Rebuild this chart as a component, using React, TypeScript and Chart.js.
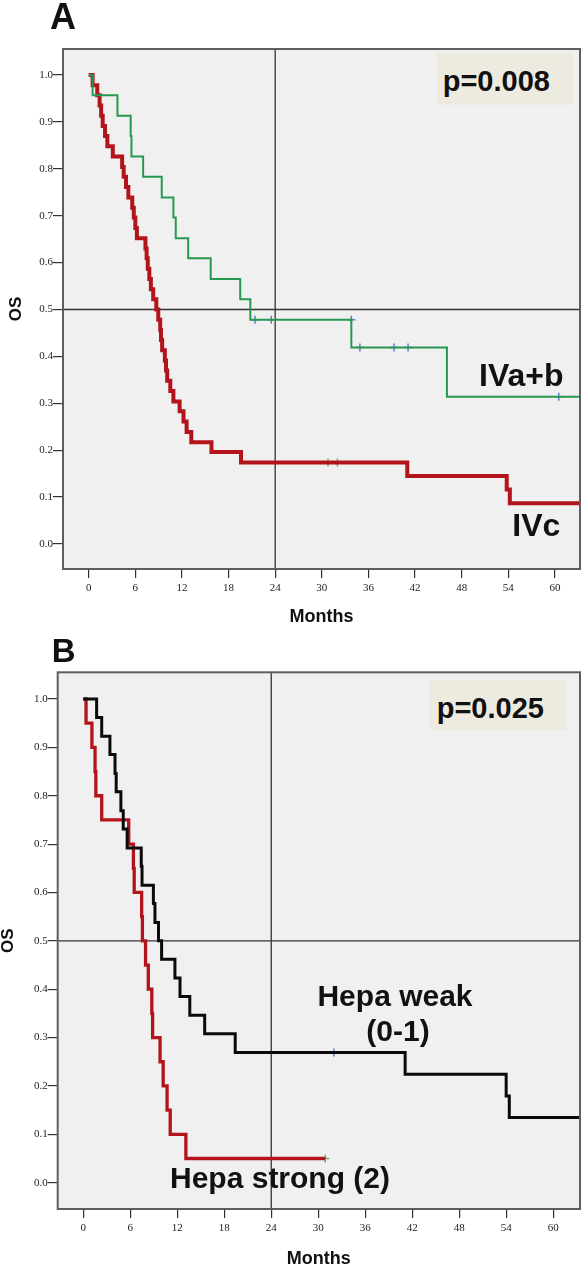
import React, { useEffect, useRef } from 'react';
import { Chart, registerables } from 'chart.js';

Chart.register(...registerables);

// ---------- shared axis data ----------
const monthTicks = [0, 6, 12, 18, 24, 30, 36, 42, 48, 54, 60];
const survTicks = [0.0, 0.1, 0.2, 0.3, 0.4, 0.5, 0.6, 0.7, 0.8, 0.9, 1.0];
const refMonth = 24;
const refSurv = 0.5;

// ---------- Panel A : IVa+b (green) vs IVc (red) ----------
const aGreenTimes = [0, 0.5, 3.7, 5.4, 5.5, 7.0, 9.4, 10.9, 11.2, 12.8, 15.7, 19.5, 20.8, 33.8, 46.1, 63.3];
const aGreenSurv = [1.0, 0.957, 0.913, 0.87, 0.826, 0.783, 0.739, 0.696, 0.652, 0.609, 0.565, 0.522, 0.478, 0.419, 0.314, 0.314];
const aGreenCensor = [21.4, 23.5, 33.8, 34.9, 39.3, 41.1, 60.5];

const aRedTimes = [0, 0.5, 1.1, 1.4, 1.6, 1.8, 2.1, 2.4, 3.1, 4.3, 4.5, 4.8, 5.1, 5.6, 5.8, 6.0, 6.2, 7.3, 7.45, 7.6, 7.8, 8.0, 8.3, 8.7, 8.95, 9.2, 9.3, 9.45, 9.8, 9.95, 10.1, 10.5, 10.9, 11.7, 12.2, 12.6, 13.2, 15.8, 19.6, 41.0, 53.8, 54.2, 63.3];
const aRedSurv = [1.0, 0.978, 0.957, 0.935, 0.913, 0.891, 0.87, 0.848, 0.826, 0.804, 0.783, 0.761, 0.739, 0.717, 0.696, 0.674, 0.652, 0.63, 0.609, 0.587, 0.565, 0.543, 0.522, 0.5, 0.478, 0.457, 0.435, 0.413, 0.391, 0.37, 0.348, 0.326, 0.304, 0.283, 0.261, 0.239, 0.217, 0.196, 0.174, 0.145, 0.116, 0.087, 0.087];
const aRedCensor = [30.8, 32.0];

// ---------- Panel B : Hepa weak (black) vs Hepa strong (red) ----------
const bBlackTimes = [0, 1.7, 2.35, 3.4, 4.05, 4.2, 4.8, 5.1, 5.6, 7.4, 7.5, 8.95, 9.15, 9.6, 10.0, 11.7, 12.35, 13.6, 15.5, 19.4, 41.1, 54.0, 54.4, 63.4];
const bBlackSurv = [1.0, 0.962, 0.923, 0.885, 0.846, 0.808, 0.769, 0.731, 0.692, 0.654, 0.615, 0.577, 0.538, 0.5, 0.462, 0.423, 0.385, 0.346, 0.308, 0.269, 0.224, 0.179, 0.135, 0.135];
const bBlackCensor = [32.0];

const bRedTimes = [0, 0.35, 1.1, 1.5, 1.6, 2.35, 5.8, 6.4, 6.5, 7.45, 7.55, 7.95, 8.3, 8.75, 8.85, 9.8, 10.2, 10.7, 11.1, 13.1, 30.9];
const bRedSurv = [1.0, 0.95, 0.9, 0.85, 0.8, 0.75, 0.7, 0.65, 0.6, 0.55, 0.5, 0.45, 0.4, 0.35, 0.3, 0.25, 0.2, 0.15, 0.1, 0.05, 0.05];
const bRedCensor = [30.9];

// ---------- helpers ----------
const toPoints = (times: number[], surv: number[]) => times.map((t, i) => ({ x: t, y: surv[i] }));
const survBefore = (times: number[], surv: number[], t: number) => {
  let v = surv[0];
  for (let i = 0; i < times.length; i++) if (times[i] < t) v = surv[i];
  return v;
};
const censorPoints = (times: number[], surv: number[], cens: number[]) =>
  cens.map((c) => ({ x: c, y: survBefore(times, surv, c) }));

const curve = (times: number[], surv: number[], color: string, width: number) => ({
  data: toPoints(times, surv),
  borderColor: color,
  backgroundColor: color,
  borderWidth: width,
  stepped: 'before' as const,
  pointRadius: 0,
  pointHoverRadius: 0,
  tension: 0,
  fill: false,
  clip: 0,
});

const marks = (times: number[], surv: number[], cens: number[], color: string) => ({
  data: censorPoints(times, surv, cens),
  showLine: false,
  borderColor: color,
  backgroundColor: color,
  pointStyle: 'cross' as const,
  pointRadius: 4,
  pointHoverRadius: 4,
  pointBorderColor: color,
  pointBorderWidth: 1.5,
  clip: 0,
});

const framePlugin = {
  id: 'kmFrame',
  beforeDraw(chart: any) {
    const { ctx, chartArea: a } = chart;
    ctx.save();
    ctx.fillStyle = '#f0f0f0';
    ctx.fillRect(a.left, a.top, a.right - a.left, a.bottom - a.top);
    ctx.restore();
  },
  beforeDatasetsDraw(chart: any) {
    const { ctx, chartArea: a, scales } = chart;
    const x = scales.x.getPixelForValue(refMonth);
    const y = scales.y.getPixelForValue(refSurv);
    ctx.save();
    ctx.strokeStyle = '#333333';
    ctx.lineWidth = 1.3;
    ctx.beginPath();
    ctx.moveTo(x, a.top);
    ctx.lineTo(x, a.bottom);
    ctx.moveTo(a.left, y);
    ctx.lineTo(a.right, y);
    ctx.stroke();
    ctx.restore();
  },
  afterDatasetsDraw(chart: any) {
    const { ctx, chartArea: a } = chart;
    ctx.save();
    ctx.strokeStyle = '#5e5e5e';
    ctx.lineWidth = 2;
    ctx.strokeRect(a.left, a.top, a.right - a.left, a.bottom - a.top);
    ctx.restore();
  },
};

type PanelProps = {
  top: number;
  height: number;
  padTop: number;
  yWidth: number;
  xHeight: number;
  xMin: number;
  xMax: number;
  yMin: number;
  yMax: number;
  yTitlePad: number;
  xTitlePad: number;
  datasets: any[];
};

function KMPanel(p: PanelProps) {
  const ref = useRef<HTMLCanvasElement | null>(null);
  useEffect(() => {
    if (!ref.current) return;
    const tickFont = { family: '"Liberation Serif", "DejaVu Serif", serif', size: 11 };
    const titleFont = { family: '"Liberation Sans", Arial, sans-serif', size: 17, weight: 'bold' as const, lineHeight: 1 };
    const chart = new Chart(ref.current, {
      type: 'line',
      data: { datasets: p.datasets },
      plugins: [framePlugin],
      options: {
        responsive: false,
        animation: false,
        events: [],
        layout: { padding: { top: p.padTop, right: 6, left: 0, bottom: 0 } },
        plugins: { legend: { display: false }, tooltip: { enabled: false } },
        scales: {
          x: {
            type: 'linear',
            min: p.xMin,
            max: p.xMax,
            afterBuildTicks: (s: any) => {
              s.ticks = monthTicks.map((v) => ({ value: v }));
            },
            afterFit: (s: any) => {
              s.height = p.xHeight;
              s.paddingLeft = 0;
              s.paddingRight = 0;
            },
            grid: { drawOnChartArea: false, drawTicks: true, tickLength: 9, color: '#333', lineWidth: 1.2 },
            border: { display: false },
            ticks: { autoSkip: false, maxRotation: 0, padding: 4, font: tickFont, color: '#222', callback: (v: any) => String(v) },
            title: { display: true, text: 'Months', color: '#111', font: { ...titleFont, size: 18 }, padding: { top: 0, bottom: p.xTitlePad } },
          },
          y: {
            type: 'linear',
            min: p.yMin,
            max: p.yMax,
            afterBuildTicks: (s: any) => {
              s.ticks = survTicks.map((v) => ({ value: v }));
            },
            afterFit: (s: any) => {
              s.width = p.yWidth;
              s.paddingTop = 0;
              s.paddingBottom = 0;
            },
            grid: { drawOnChartArea: false, drawTicks: true, tickLength: 10, color: '#333', lineWidth: 1.2 },
            border: { display: false },
            ticks: { autoSkip: false, padding: 0, font: tickFont, color: '#222', callback: (v: any) => Number(v).toFixed(1) },
            title: { display: true, text: 'OS', color: '#111', font: titleFont, padding: { top: p.yTitlePad, bottom: 0 } },
          },
        },
      } as any,
    });
    return () => chart.destroy();
  }, []);
  return (
    <canvas
      ref={ref}
      width={586}
      height={p.height}
      style={{ position: 'absolute', left: 0, top: p.top, width: 586, height: p.height, display: 'block' }}
    />
  );
}

const sans = '"Liberation Sans", Arial, Helvetica, sans-serif';
const txt = (left: number, top: number, size: number, extra: any = {}) => ({
  position: 'absolute' as const,
  left,
  top,
  fontFamily: sans,
  fontWeight: 'bold' as const,
  fontSize: size,
  lineHeight: `${size}px`,
  color: '#111',
  whiteSpace: 'nowrap' as const,
  margin: 0,
  ...extra,
});

export default function App() {
  const datasetsA = [
    curve(aGreenTimes, aGreenSurv, '#26994f', 2),
    curve(aRedTimes, aRedSurv, '#b3141b', 4),
    marks(aGreenTimes, aGreenSurv, aGreenCensor, '#5b7fc9'),
    marks(aRedTimes, aRedSurv, aRedCensor, '#5cb85c'),
  ];
  const datasetsB = [
    curve(bBlackTimes, bBlackSurv, '#0a0a0a', 3),
    curve(bRedTimes, bRedSurv, '#b3141b', 3.3),
    marks(bBlackTimes, bBlackSurv, bBlackCensor, '#5b7fc9'),
    marks(bRedTimes, bRedSurv, bRedCensor, '#5cb85c'),
  ];
  return (
    <div style={{ position: 'absolute', left: 0, top: 0, width: 586, height: 1267, overflow: 'hidden', background: '#ffffff' }}>
      <KMPanel
        top={0}
        height={630}
        padTop={49}
        yWidth={63}
        xHeight={61}
        xMin={-3.31}
        xMax={63.23}
        yMin={-0.0533}
        yMax={1.0554}
        yTitlePad={8.2}
        xTitlePad={3.5}
        datasets={datasetsA}
      />
      <KMPanel
        top={628}
        height={652}
        padTop={44.3}
        yWidth={57.7}
        xHeight={71}
        xMin={-3.27}
        xMax={63.43}
        yMin={-0.0544}
        yMax={1.0552}
        yTitlePad={0}
        xTitlePad={12}
        datasets={datasetsB}
      />

      <div style={txt(50, -1.2, 36)}>A</div>
      <div style={txt(51.7, 633.8, 33)}>B</div>

      <div style={{ position: 'absolute', left: 436.7, top: 53.3, width: 136, height: 51.7, background: '#edeae0' }} />
      <div style={txt(442.7, 67.2, 29)}>p=0.008</div>
      <div style={txt(479, 358.9, 32)}>IVa+b</div>
      <div style={txt(512.3, 508.9, 32)}>IVc</div>

      <div style={{ position: 'absolute', left: 429.3, top: 680, width: 136.7, height: 50, background: '#edeae0' }} />
      <div style={txt(436.7, 693.8, 29)}>p=0.025</div>
      <div style={txt(290, 981.3, 30, { width: 210, textAlign: 'center' })}>Hepa weak</div>
      <div style={txt(293, 1016.3, 30, { width: 210, textAlign: 'center' })}>(0-1)</div>
      <div style={txt(170, 1162.9, 30)}>Hepa strong (2)</div>
    </div>
  );
}
